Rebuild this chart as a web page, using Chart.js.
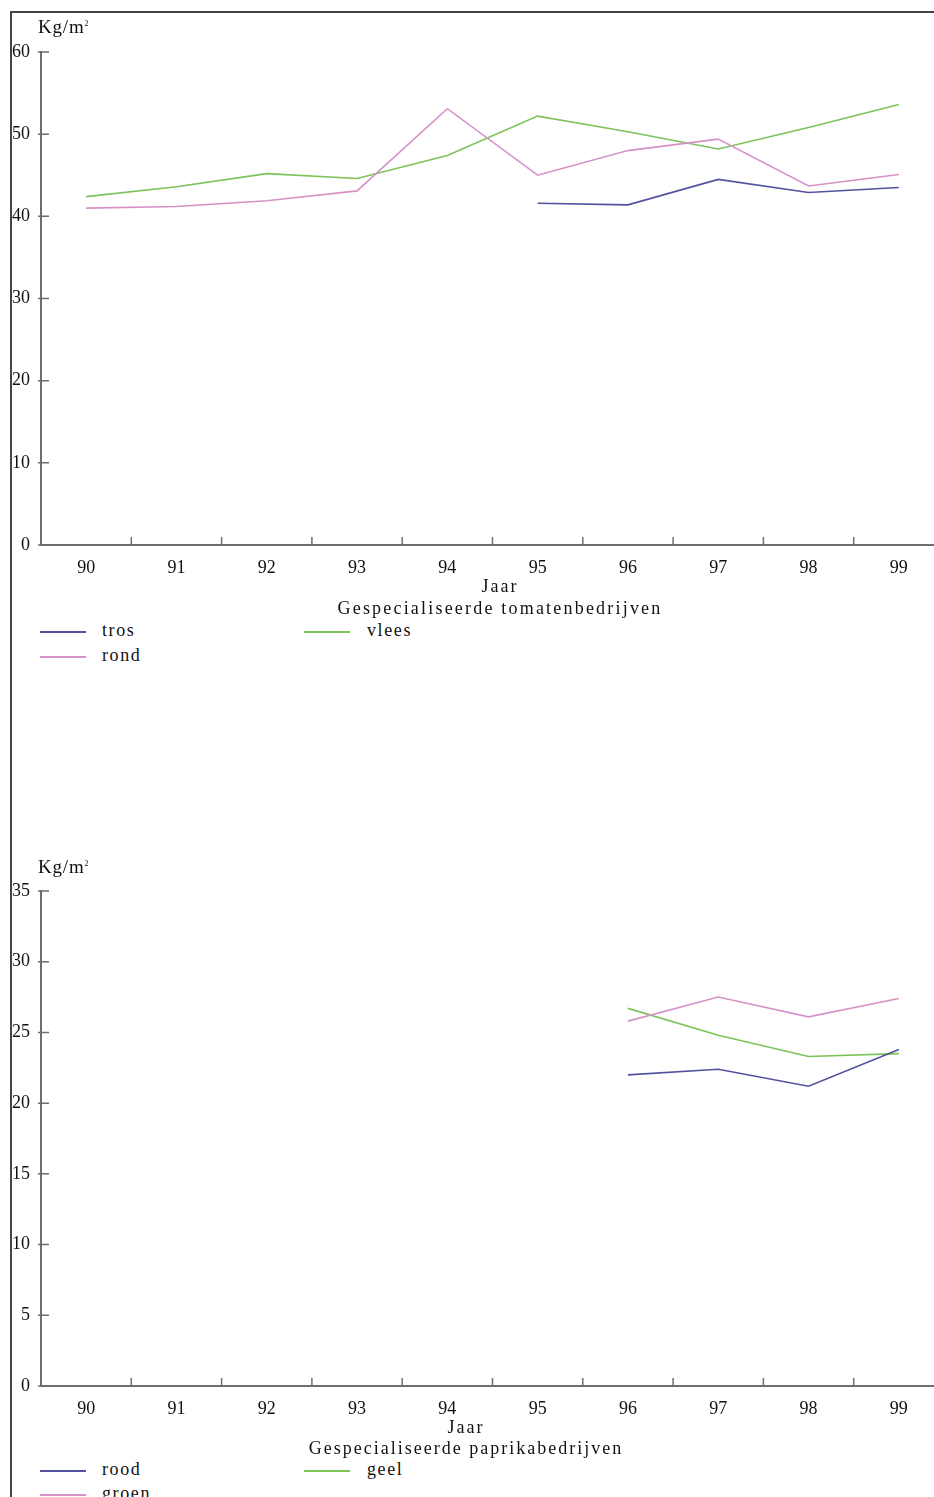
<!DOCTYPE html>
<html>
<head>
<meta charset="utf-8">
<script src="https://cdn.jsdelivr.net/npm/chart.js@4"></script>
<style>
  html, body { margin:0; padding:0; width:934px; height:1497px; overflow:hidden; background:#fff; }
  body { position:relative; font-family:"Liberation Serif", "DejaVu Serif", serif; color:#111; }
  canvas { position:absolute; left:0; }
  .t { position:absolute; font-size:18px; line-height:20px; white-space:nowrap; }
  .c { transform:translateX(-50%); }
  .frame { position:absolute; left:10px; top:11px; width:940px; height:1500px;
           border-left:2px solid #444; border-top:2px solid #444; z-index:5; pointer-events:none; }
  .lg { position:absolute; height:2px; width:46px; }
</style>
</head>
<body>
<div class="frame"></div>

<canvas id="c1" width="960" height="580" style="top:0;width:960px;height:580px"></canvas>
<div class="t" style="left:38px;top:14px;font-size:19px;letter-spacing:0.8px">Kg/m<sup style="font-size:8px">2</sup></div>
<div class="t c" style="left:500px;top:576px;letter-spacing:2px">Jaar</div>
<div class="t c" style="left:500px;top:598px;letter-spacing:2.2px">Gespecialiseerde tomatenbedrijven</div>
<div id="leg1"></div>

<canvas id="c2" width="960" height="580" style="top:840px;width:960px;height:580px"></canvas>
<div class="t" style="left:38px;top:854px;font-size:19px;letter-spacing:0.8px">Kg/m<sup style="font-size:8px">2</sup></div>
<div class="t c" style="left:466px;top:1417px;letter-spacing:2px">Jaar</div>
<div class="t c" style="left:466px;top:1438px;letter-spacing:2px">Gespecialiseerde paprikabedrijven</div>
<div id="leg2"></div>

<script>
// ---- data ----
const years = ['90','91','92','93','94','95','96','97','98','99'];
// tomaten (kg/m2)
const tros  = [null, null, null, null, null, 41.6, 41.4, 44.5, 42.9, 43.5];
const rond  = [41.0, 41.2, 41.9, 43.1, 53.1, 45.0, 48.0, 49.4, 43.7, 45.1];
const vlees = [42.4, 43.6, 45.2, 44.6, 47.4, 52.2, 50.3, 48.2, 50.8, 53.6];
// paprika (kg/m2)
const rood  = [null, null, null, null, null, null, 22.0, 22.4, 21.2, 23.8];
const groen = [null, null, null, null, null, null, 25.8, 27.5, 26.1, 27.4];
const geel  = [null, null, null, null, null, null, 26.7, 24.8, 23.3, 23.5];
const tomYTicks = [0, 10, 20, 30, 40, 50, 60];
const papYTicks = [0, 5, 10, 15, 20, 25, 30, 35];

const BLUE = '#52529f', PINK = '#d692c8', GREEN = '#7cc35a', AXIS = '#6e6e6e';
const FONT = { family: 'Liberation Serif', size: 18 };

const innerTicks = {
  id: 'innerTicks',
  afterDraw(chart) {
    const { ctx, scales: { x, y } } = chart;
    ctx.save();
    ctx.strokeStyle = AXIS; ctx.lineWidth = 1.5;
    ctx.beginPath();
    y.ticks.forEach((t, i) => {
      const py = y.getPixelForTick(i);
      ctx.moveTo(x.left - 3, py); ctx.lineTo(x.left + 8, py);
    });
    for (let i = 1; i < x.ticks.length; i++) {
      const px = (x.getPixelForTick(i - 1) + x.getPixelForTick(i)) / 2;
      ctx.moveTo(px, y.bottom); ctx.lineTo(px, y.bottom - 8);
    }
    ctx.stroke();
    ctx.restore();
  }
};

function makeChart(id, series, yTicks, top, xH) {
  const max = yTicks[yTicks.length - 1];
  const step = yTicks[1] - yTicks[0];
  return new Chart(document.getElementById(id), {
    type: 'line',
    data: {
      labels: years,
      datasets: series.map(s => ({
        label: s.label, data: s.data, borderColor: s.color, backgroundColor: s.color,
        borderWidth: 1.6, pointRadius: 0, tension: 0, spanGaps: false, fill: false
      }))
    },
    options: {
      responsive: false, animation: false, devicePixelRatio: 1,
      layout: { padding: { top: top, right: 16, left: 0, bottom: 0 } },
      plugins: { legend: { display: false }, tooltip: { enabled: false } },
      scales: {
        x: {
          type: 'category', offset: true,
          grid: { display: true, drawOnChartArea: false, drawTicks: false, color: AXIS },
          border: { display: true, color: AXIS, width: 2 },
          ticks: { font: FONT, color: '#111', padding: 12, maxRotation: 0, autoSkip: false },
          afterFit: s => { s.height = xH; }
        },
        y: {
          min: 0, max: max,
          grid: { display: true, drawOnChartArea: false, drawTicks: false, color: AXIS },
          border: { display: true, color: AXIS, width: 2 },
          ticks: { stepSize: step, font: FONT, color: '#111', padding: 11 },
          afterFit: s => { s.width = 41; }
        }
      }
    },
    plugins: [innerTicks]
  });
}

const tomSeries = [
  { label: 'tros', data: tros, color: BLUE },
  { label: 'rond', data: rond, color: PINK },
  { label: 'vlees', data: vlees, color: GREEN }
];
const papSeries = [
  { label: 'rood', data: rood, color: BLUE },
  { label: 'groen', data: groen, color: PINK },
  { label: 'geel', data: geel, color: GREEN }
];

makeChart('c1', tomSeries, tomYTicks, 52, 35);
makeChart('c2', papSeries, papYTicks, 51, 34);

// legends: column 1 = series 0,1 ; column 2 = series 2
function legend(elId, series, rowY) {
  const el = document.getElementById(elId);
  const pos = [[40, 102, rowY[0]], [40, 102, rowY[1]], [304, 367, rowY[0]]];
  series.forEach((s, i) => {
    const [lx, tx, y] = pos[i];
    const line = document.createElement('div');
    line.className = 'lg';
    line.style.cssText = `left:${lx}px;top:${y}px;background:${s.color};`;
    el.appendChild(line);
    const txt = document.createElement('div');
    txt.className = 't';
    txt.style.cssText = `left:${tx}px;top:${y - 11}px;letter-spacing:1.6px`;
    txt.textContent = s.label;
    el.appendChild(txt);
  });
}
legend('leg1', tomSeries, [631, 656]);
legend('leg2', papSeries, [1470, 1494]);
</script>
</body>
</html>
